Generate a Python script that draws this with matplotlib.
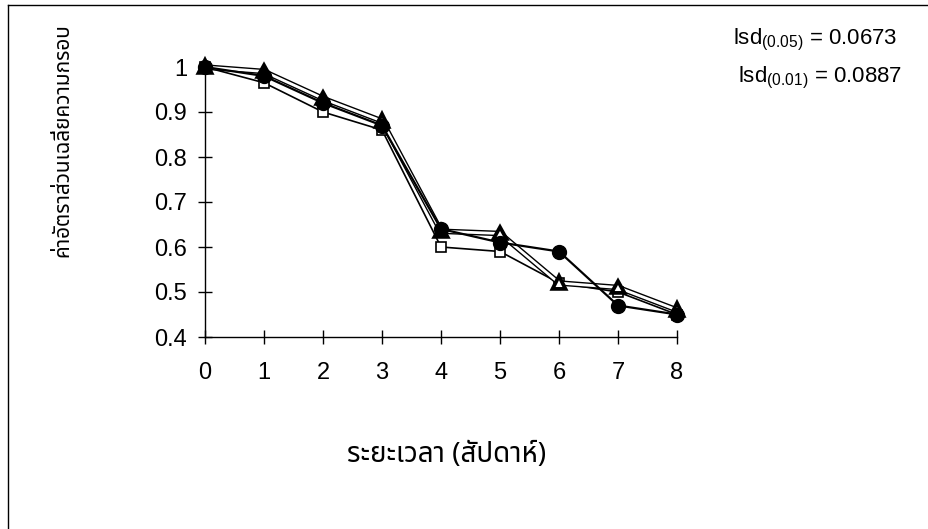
import matplotlib
matplotlib.use('Agg')
import matplotlib.pyplot as plt
import matplotlib.patheffects as pe
from matplotlib import font_manager

# weeks and mean ratio for three treatments
weeks = [0, 1, 2, 3, 4, 5, 6, 7, 8]
circle_vals = [1.00, 0.98, 0.92, 0.87, 0.64, 0.61, 0.59, 0.47, 0.45]
triangle_vals = [1.00, 0.99, 0.93, 0.88, 0.635, 0.63, 0.52, 0.51, 0.46]
square_vals = [1.00, 0.965, 0.90, 0.86, 0.60, 0.59, 0.52, 0.50, 0.45]
yticks = [0.4, 0.5, 0.6, 0.7, 0.8, 0.9, 1]
ytick_labels = ['0.4', '0.5', '0.6', '0.7', '0.8', '0.9', '1']

xlabel = 'ระยะเวลา (สัปดาห์)'
ylabel = 'ค่าอัตราส่วนเฉลี่ยความกรอบ'
lsd_lines = [r'lsd$_{(0.05)}$ = 0.0673', r'lsd$_{(0.01)}$ = 0.0887']

# pick whatever installed font can draw Thai
names = {f.name for f in font_manager.fontManager.ttflist}
fams = [n for n in ['Noto Sans Thai', 'Noto Sans Thai Looped', 'Loma', 'Garuda',
                    'Norasi', 'Tlwg Typo', 'Waree', 'Kinnari', 'Sawasdee']
        if n in names]
thai = fams + ['Liberation Sans', 'DejaVu Sans']
plt.rcParams['font.family'] = ['Liberation Sans', 'DejaVu Sans']
plt.rcParams['mathtext.fontset'] = 'custom'
plt.rcParams['mathtext.rm'] = 'Liberation Sans'
plt.rcParams['mathtext.it'] = 'Liberation Sans'
plt.rcParams['mathtext.bf'] = 'Liberation Sans:bold'

fig = plt.figure(figsize=(9.29, 5.29), dpi=100)
ax = fig.add_axes([205/929, 1-337/529, 472/929, 270/529])

ax.plot(weeks, square_vals, color='black', lw=1.2, marker='s', ms=7,
        mfc='white', mec='black', mew=1.2, clip_on=False, zorder=3)
ax.plot(weeks, triangle_vals, color='white', lw=2.0, marker='^', ms=6.5,
        mfc='white', mec='black', mew=1.4, clip_on=False, zorder=4,
        path_effects=[pe.Stroke(linewidth=4.0, foreground='black'), pe.Normal()])
ax.plot(weeks, circle_vals, color='black', lw=1.6, marker='o', ms=10,
        mfc='black', mec='black', clip_on=False, zorder=5)

ax.set_xlim(0, 8)
ax.set_ylim(0.4, 1.0)
ax.set_xticks(weeks)
ax.set_yticks(yticks)
ax.set_yticklabels(ytick_labels)
for s in ['top', 'right']:
    ax.spines[s].set_visible(False)
for s in ['left', 'bottom']:
    ax.spines[s].set_linewidth(1.0)
ax.tick_params(direction='inout', length=10, width=1.0, labelsize=17)
ax.tick_params(axis='x', pad=13)
ax.tick_params(axis='y', pad=8)

fig.text(447/929, 1-455/529, xlabel, ha='center', va='center', fontsize=20,
         family=thai)
fig.text(63/929, 1-140/529, ylabel, ha='center', va='center', fontsize=15,
         rotation=90, family=thai)
fig.text(733/929, 1-40/529, lsd_lines[0], ha='left', va='center', fontsize=16)
fig.text(738/929, 1-78/529, lsd_lines[1], ha='left', va='center', fontsize=16)

# scan border on left and top
fig.add_artist(plt.Line2D([8/929, 8/929], [0, 1-5/529], color='black', lw=1,
                          transform=fig.transFigure))
fig.add_artist(plt.Line2D([8/929, 1], [1-5/529, 1-5/529], color='black', lw=1,
                          transform=fig.transFigure))

fig.savefig('out.png', dpi=100)
